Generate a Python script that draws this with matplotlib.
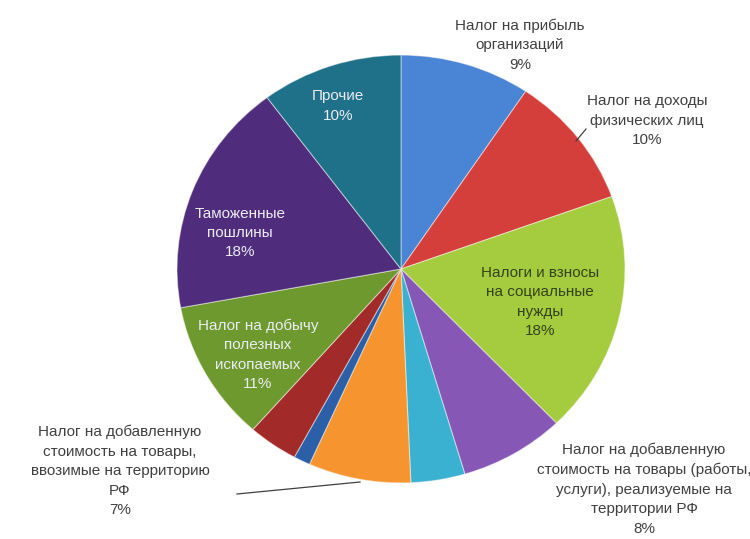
import matplotlib
matplotlib.use("Agg")
import matplotlib.pyplot as plt

plt.rcParams['font.family'] = ['Liberation Sans', 'DejaVu Sans']

# ---- data (clockwise from 12 o'clock) ----
categories = [
    "Налог на прибыль\nорганизаций",
    "Налог на доходы\nфизических лиц",
    "Налоги и взносы\nна социальные\nнужды",
    "Налог на добавленную\nстоимость на товары (работы,\nуслуги), реализуемые на\nтерритории РФ",
    "",
    "Налог на добавленную\nстоимость на товары,\nввозимые на территорию\nРФ",
    "",
    "",
    "Налог на добычу\nполезных\nископаемых",
    "Таможенные\nпошлины",
    "Прочие",
]
values = [9.4, 10.1, 18.3, 7.6, 3.9, 7.4, 1.2, 3.6, 10.6, 17.7, 10.2]
pct_labels = ["9%", "10%", "18%", "8%", "", "7%", "", "", "11%", "18%", "10%"]
colors = ["#4a84d4", "#d43f3c", "#a5cb3e", "#8757b5", "#3bb1d2", "#f6952f",
          "#2b60a8", "#a22b29", "#6e992e", "#4f2d7c", "#1f7089"]

W, H = 750, 539
fig = plt.figure(figsize=(W / 100, H / 100), dpi=100)
ax = fig.add_axes([0, 0, 1, 1])
ax.set_axis_off()

sy = 0.955
cx, cy, r = 401, (H - 269) / sy, 224

ax.pie(values, colors=colors, startangle=90, counterclock=False,
       center=(cx, cy), radius=r, frame=True,
       wedgeprops=dict(edgecolor=(1, 1, 1, 0.45), linewidth=0.8))
ax.set_xlim(0, W)
ax.set_ylim(0, H / sy)
ax.set_aspect('auto')
ax.set_axis_off()


def txt(x, y, s, color, fs=11):
    fig.text(x / W, 1 - y / H, s, ha='center', va='center', color=color,
             fontsize=fs, linespacing=1.5)


dark = "#404040"
light = "#ececf2"
# outside labels
txt(520, 45, categories[0] + "\n" + pct_labels[0], dark)
txt(647, 121, categories[1] + "\n" + pct_labels[1], dark)
txt(644, 489, categories[3] + "\n" + pct_labels[3], dark)
txt(120, 471, categories[5] + "\n" + pct_labels[5], dark)
# inside labels
txt(540, 302, categories[2] + "\n" + pct_labels[2], "#34441a")
txt(258, 355, categories[8] + "\n" + pct_labels[8], light)
txt(240, 233, categories[9] + "\n" + pct_labels[9], light)
txt(338, 106, categories[10] + "\n" + pct_labels[10], light)

# leader lines
fig.add_artist(plt.Line2D([237 / W, 360 / W], [1 - 494 / H, 1 - 482 / H],
                          color="#404040", lw=0.9))
fig.add_artist(plt.Line2D([576 / W, 586 / W], [1 - 141 / H, 1 - 129 / H],
                          color="#404040", lw=0.9))

fig.savefig("out.png", dpi=100, facecolor="white")
